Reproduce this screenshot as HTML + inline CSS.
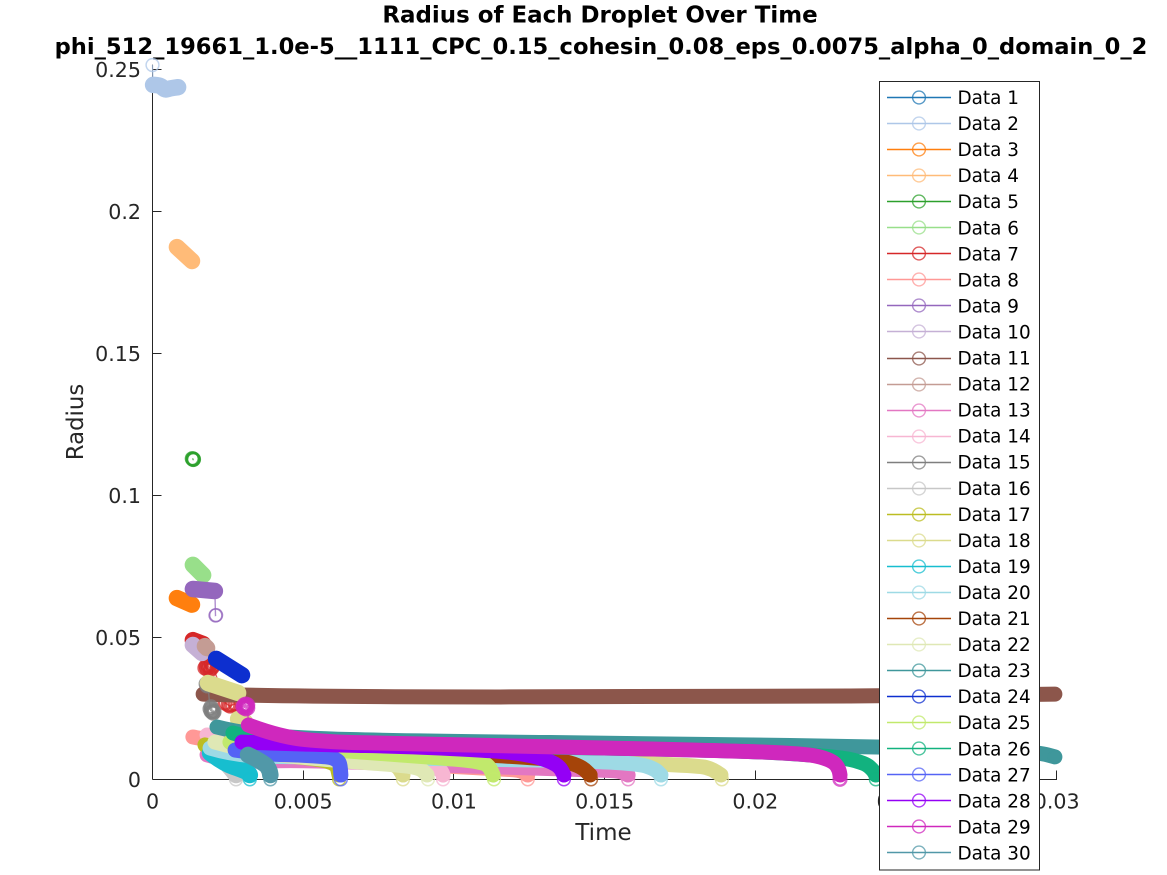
<!DOCTYPE html>
<html lang="en">
<head>
<meta charset="utf-8">
<title>Radius of Each Droplet Over Time</title>
<style>
html,body{margin:0;padding:0;background:#fff;width:1167px;height:875px;overflow:hidden}
svg{display:block;font-family:"DejaVu Sans","Liberation Sans",sans-serif}
</style>
</head>
<body>
<svg id="chart" width="1167" height="875" viewBox="0 0 1167 875" xmlns="http://www.w3.org/2000/svg">
<text x="600" y="22.5" text-anchor="middle" font-weight="bold" font-size="22.95" fill="#000">Radius of Each Droplet Over Time</text>
<text x="601" y="54" text-anchor="middle" font-weight="bold" font-size="22.6" fill="#000">phi_512_19661_1.0e-5__1111_CPC_0.15_cohesin_0.08_eps_0.0075_alpha_0_domain_0_2</text>
<text x="603.5" y="840" text-anchor="middle" font-size="23" fill="#262626">Time</text>
<text x="0" y="0" transform="translate(83,422) rotate(-90)" text-anchor="middle" font-size="22.8" fill="#262626">Radius</text>
<g id="axes"></g>
<g id="marks"></g>
<g id="legend"></g>
</svg>
<script>
const xTicks = [0, 0.005, 0.01, 0.015, 0.02, 0.025, 0.03];
const xTickLabels = ["0", "0.005", "0.01", "0.015", "0.02", "0.025", "0.03"];
const yTicks = [0, 0.05, 0.1, 0.15, 0.2, 0.25];
const yTickLabels = ["0", "0.05", "0.1", "0.15", "0.2", "0.25"];
const legendLabels = ["Data 1","Data 2","Data 3","Data 4","Data 5","Data 6","Data 7","Data 8","Data 9","Data 10","Data 11","Data 12","Data 13","Data 14","Data 15","Data 16","Data 17","Data 18","Data 19","Data 20","Data 21","Data 22","Data 23","Data 24","Data 25","Data 26","Data 27","Data 28","Data 29","Data 30"];
const palette = ["#1f77b4","#aec7e8","#ff7f0e","#ffbb78","#2ca02c","#98df8a","#d62728","#ff9896","#9467bd","#c5b0d5","#8c564b","#c49c94","#e377c2","#f7b6d2","#7f7f7f","#c7c7c7","#bcbd22","#dbdb8d","#17becf","#9edae5","#a54409","#dfe8b5","#3f979b","#0d2fcf","#c1e96c","#12b27f","#5563f5","#9400f5","#cf28bd","#5198a8"];

/* Each row: which legend entry the droplet track belongs to (1-based). Data 18 has several visible tracks. */
const trackSeries = [1,2,3,4,5,6,7,8,9,10,11,12,13,14,15,16,17,18,18,18,18,19,20,21,22,23,24,25,26,27,28,29,30];

/* Densely sampled parts of each track (time, radius) */
const denseTimes = [
 [],
 [.00002,.00025,.00041,.00058,.00085],
 [.00081,.00131],
 [.00081,.00131],
 [],
 [.00134,.00168],
 [.00134,.00168],
 [.00134,.00151,.0029,.00489,.01153,.01219,.01245],
 [.00134,.00207],
 [.00134,.00164],
 [.00168,.00489,.01817,.02812,.02994],
 [.00174,.00181],
 [.00181,.00257,.00489,.00821,.01485,.01552,.01578],
 [.00181,.00489,.00821,.00927,.00957,.00964],
 [],
 [.00207,.00241,.00264,.00277],
 [.00174,.00257,.00489,.00609,.00619],
 [.00184,.00284],
 [.00284,.00307],
 [.00257,.00589,.00755,.00811,.00831],
 [.0029,.00821,.01594,.01817,.01856,.01886],
 [.00191,.00234,.0030,.0032,.00323],
 [.00191,.0028,.00489,.01153,.01461,.01617,.01667,.01687],
 [.00274,.00821,.01286,.01369,.01425,.01452],
 [.00207,.00323,.00589,.00821,.00888,.00911],
 [.00214,.0029,.00489,.00821,.01817,.02414,.02812,.02945,.02994],
 [.00211,.00297],
 [.00257,.00821,.01043,.01103,.0112,.0113],
 [.00267,.00339,.00489,.00821,.01949,.02281,.02364,.0239,.024],
 [.00274,.00367,.00479,.00589,.00612,.00622,.00625],
 [.00297,.00589,.00821,.01153,.01252,.01319,.01352,.01365],
 [.00318,.00423,.00589,.00821,.01949,.02172,.02231,.02265,.02278,.02281],
 [.00317,.00373,.00388,.00391]
];
const denseRadii = [
 [],
 [.2445,.2445,.2427,.2433,.2437],
 [.0638,.0615],
 [.1874,.1825],
 [],
 [.0755,.0719],
 [.0490,.0476],
 [.0149,.0145,.0121,.0075,.0036,.0033,.0015],
 [.0670,.0663],
 [.0473,.0445],
 [.0300,.0290,.0290,.0297,.0300],
 [.0469,.0462],
 [.0086,.0061,.0068,.0054,.0033,.0029,.0015],
 [.0156,.0086,.0054,.0043,.0033,.0015],
 [],
 [.0121,.0061,.0033,.0015],
 [.0121,.0103,.0079,.0061,.0015],
 [.0339,.0304],
 [.0212,.0202],
 [.0121,.0082,.0068,.0050,.0015],
 [.0121,.0096,.0057,.0047,.0036,.0015],
 [.0093,.0057,.0033,.0022,.0015],
 [.0110,.0082,.0079,.0071,.0064,.0054,.0036,.0015],
 [.0114,.0103,.0075,.0064,.0043,.0015],
 [.0131,.0096,.0068,.0050,.0040,.0015],
 [.0184,.0163,.0145,.0135,.0124,.0114,.0105,.0093,.0079],
 [.0424,.0367],
 [.0131,.0086,.0068,.0057,.0040,.0015],
 [.0163,.0138,.0128,.0121,.0103,.0079,.0057,.0033,.0015],
 [.0103,.0089,.0086,.0079,.0068,.0057,.0015],
 [.0131,.0121,.0117,.0100,.0086,.0064,.0043,.0015],
 [.0191,.0149,.0131,.0126,.0100,.0089,.0075,.0057,.0033,.0015],
 [.0086,.0057,.0033,.0015]
];

/* Individually visible samples of each track (time, radius) */
const sparseTimes = [
 [],
 [0],
 [],
 [],
 [.00134,.00136,.00132,.00135],
 [],
 [.00174,.00178,.00181,.00184,.00187,.00191,.00194,.00197,.00201,.00241,.00251,.00257,.00264,.00274],
 [.01245],
 [.00209,.00211],
 [],
 [],
 [],
 [.01578],
 [.00964],
 [.00178,.00181,.00184,.00191,.00194,.00194,.00197,.00197,.00201,.00201,.00204],
 [.00277],
 [.00619],
 [],
 [],
 [.00831],
 [.01889],
 [.00323],
 [.01687],
 [.01455],
 [.00914],
 [.02994],
 [],
 [.01133],
 [.024],
 [.00625],
 [.01365],
 [.0030,.00304,.00304,.00307,.0031,.0031,.00314,.00316,.00316,.02281],
 [.00391]
];
const sparseRadii = [
 [],
 [.2515],
 [],
 [],
 [.1128,.1127,.1129,.1126],
 [],
 [.0392,.0399,.0388,.0402,.0395,.0385,.0406,.0392,.0399,.0268,.0262,.0258,.0262,.0265],
 [0],
 [.0577,.0578],
 [],
 [],
 [],
 [0],
 [0],
 [.0336,.0329,.0332,.0248,.0240,.0255,.0248,.0237,.0240,.0233,.0237],
 [0],
 [0],
 [],
 [],
 [0],
 [0],
 [0],
 [0],
 [0],
 [0],
 [.0079],
 [],
 [0],
 [0],
 [0],
 [0],
 [.0255,.0262,.0251,.0258,.0265,.0248,.0258,.0262,.0251,0],
 [0]
];

const NS = "http://www.w3.org/2000/svg";
const xOrigin = 152.5, xScale = 30140;
const yOrigin = 779.3, yScale = 2840;
const axisTop = 64.7, axisRight = 1057;
function xAxis(t){ return xOrigin + t * xScale; }
function yAxis(r){ return yOrigin - r * yScale; }
function make(tag, parent, attrs){
  const el = document.createElementNS(NS, tag);
  for (const k in attrs) el.setAttribute(k, attrs[k]);
  parent.appendChild(el);
  return el;
}
/* rounded path through the samples, so track corners read as the smooth curves of the dense markers */
function smoothPath(times, radii){
  const pts = times.map(function(t, k){ return [xAxis(t), yAxis(radii[k])]; });
  let d = "M" + pts[0][0] + " " + pts[0][1];
  for (let k = 1; k < pts.length - 1; k++) {
    const mx = (pts[k][0] + pts[k+1][0]) / 2;
    const my = (pts[k][1] + pts[k+1][1]) / 2;
    d += " Q" + pts[k][0] + " " + pts[k][1] + " " + mx + " " + my;
  }
  const last = pts[pts.length - 1];
  d += " L" + last[0] + " " + last[1];
  return d;
}

/* axes */
const axes = document.getElementById("axes");
const axisInk = "#262626";
const xLine = make("line", axes, {x1:xOrigin, y1:779.5, x2:axisRight, y2:779.5, stroke:axisInk, "stroke-width":1});


const yLine = make("line", axes, {x1:xOrigin, y1:779.5, x2:xOrigin, y2:axisTop, stroke:axisInk, "stroke-width":1});


xTicks.forEach(function(v, i){
  const x = Math.floor(xAxis(v)) + 0.5;
  const tick = make("line", axes, {x1:x, y1:779.5, x2:x, y2:770.5, stroke:axisInk, "stroke-width":1});
  
  
  const label = make("text", axes, {x:xAxis(v), y:808.5, "text-anchor":"middle", "font-size":20.6, fill:axisInk});
  
  
  label.textContent = xTickLabels[i];
});
yTicks.forEach(function(v, i){
  const y = yAxis(v);
  const snapped = Math.floor(y) + 0.5;
  const tick = make("line", axes, {x1:xOrigin, y1:snapped, x2:xOrigin+9, y2:snapped, stroke:axisInk, "stroke-width":1});
  
  
  const label = make("text", axes, {x:141, y:y+7.5, "text-anchor":"end", "font-size":20.6, fill:axisInk});
  
  
  label.textContent = yTickLabels[i];
});

/* series */
const marks = document.getElementById("marks");
trackSeries.forEach(function(seriesNo, i){
  const color = palette[seriesNo - 1];
  const group = make("g", marks, {});
  
  
  const denseT = denseTimes[i], denseR = denseRadii[i];
  const sparseT = sparseTimes[i], sparseR = sparseRadii[i];
  const all = [];
  denseT.forEach(function(t, k){ all.push([t, denseR[k]]); });
  sparseT.forEach(function(t, k){ all.push([t, sparseR[k]]); });
  all.sort(function(a, b){ return a[0] - b[0]; });
  if (all.length > 1) {
    const thin = make("polyline", group, {points: all.map(function(p){ return xAxis(p[0]) + "," + yAxis(p[1]); }).join(" "), fill:"none", stroke:color, "stroke-width":1.4, "stroke-opacity":0.75});
    
    
  }
  if (denseT.length) {
    const span = denseT[denseT.length - 1] - denseT[0];
    const band = make("path", group, {d: smoothPath(denseT, denseR), fill:"none", stroke:color, "stroke-width": span < 0.0015 ? 16.5 : 15, "stroke-linecap":"round", "stroke-linejoin":"round"});
    
    
  }
  const ringWidth = sparseT.length >= 4 ? 2.4 : 1.5;
  sparseT.forEach(function(t, k){
    const dot = make("circle", group, {cx:xAxis(t), cy:yAxis(sparseR[k]), r:6.4, fill:"none", stroke:color, "stroke-width":ringWidth, "stroke-opacity":0.75});
    
    
  });
});

/* legend */
const legend = document.getElementById("legend");
const legendBox = make("rect", legend, {x:879.5, y:81.5, width:160, height:788.5, fill:"#fff", stroke:"#262626", "stroke-width":1});


legendLabels.forEach(function(name, i){
  const y = 97.5 + i * 26.05;
  const rowY = Math.floor(y) + 0.5;
  const entry = make("g", legend, {});
  
  
  const line = make("line", entry, {x1:887, y1:rowY, x2:951, y2:rowY, stroke:palette[i], "stroke-width":1.4});
  
  
  const ring = make("circle", entry, {cx:919, cy:rowY, r:6.4, fill:"#fff", "fill-opacity":0, stroke:palette[i], "stroke-width":1.4, "stroke-opacity":0.75});
  
  
  const label = make("text", entry, {x:957.5, y:y+6.5, "font-size":18.4, fill:"#000"});
  
  
  label.textContent = name;
});
</script>
</body>
</html>
